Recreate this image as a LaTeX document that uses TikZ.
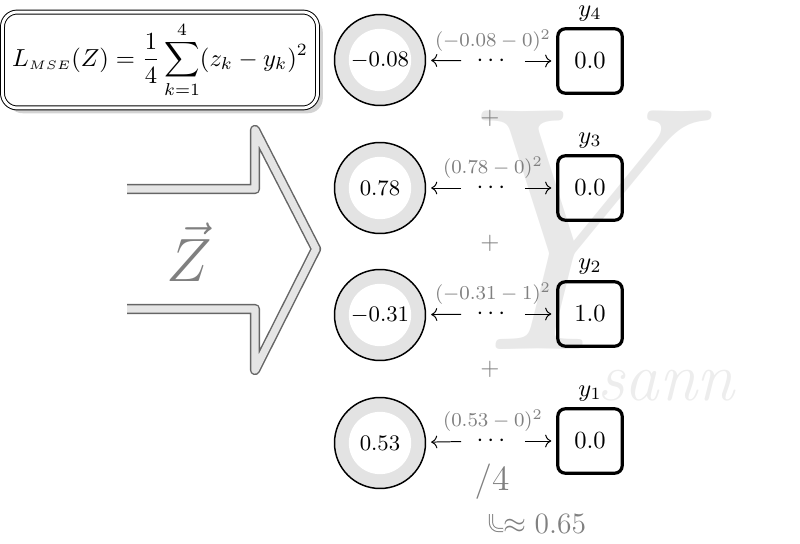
\documentclass[tikz,border=0pt]{standalone}
\usepackage{amssymb}
\usepackage{amsmath}
\usepackage{xcolor}
\usepackage{tikz}
\usetikzlibrary{positioning, shapes.geometric, arrows.meta, shadows}

\begin{document}
\begin{tikzpicture}[
        x=1cm/70, y=-1cm/70,
        neuron/.style={circle, draw, line width=0.6pt, fill=gray!22, minimum size=1.3cm, inner sep=0pt, font=\small,
            path picture={\fill[white] (path picture bounding box.center) circle (0.445cm);}},
        target/.style={rectangle, draw, rounded corners=3pt, line width=1.3pt, minimum size=0.92cm, inner sep=0pt},
        gap/.style={minimum width=0.9cm, inner sep=0pt},
        diff/.style={gray, font=\footnotesize},
        faint/.style={gray},
        err/.style={->, shorten >=2pt},
    ]
        \useasboundingbox (0,0) rectangle (800,544);

        % Watermark
        \node[text=black!9, font=\fontsize{142}{142}\selectfont\itshape] (mark) at (538,230) {Y};
        \node[text=black!7, font=\fontsize{28}{28}\selectfont\itshape] (brand) at (666,386) {sann};

        % Loss
        \node[draw, double, double distance=1.2pt, rounded corners=6pt, fill=white, drop shadow={opacity=0.35},
            minimum width=4.5cm, minimum height=1.37cm] (loss) at (160,60)
            {$\displaystyle L_{\scriptscriptstyle MSE}(Z)=\frac{1}{4}\sum_{k=1}^{4}(z_k-y_k)^2$};

        % Input arrow
        \draw[double=gray!20, double distance=3pt, line width=0.6pt, draw=gray!80!black, line join=round]
            (127,189) -- (255,189) -- (255,130) -- (316,249) -- (255,370) -- (255,309) -- (127,309);
        \node[faint, font=\Huge] (zvec) at (189,252) {$\vec{Z}$};

        % Outputs and targets
        \node[neuron] (z4) at (380,60) {$-0.08$};
        \node[neuron] (z3) at (380,188) {$0.78$};
        \node[neuron] (z2) at (380,315) {$-0.31$};
        \node[neuron] (z1) at (380,443) {$0.53$};

        \node[target, label={[yshift=-1pt]above:$y_4$}] (y4) at (590,61) {$0.0$};
        \node[target, label={[yshift=-1pt]above:$y_3$}] (y3) at (590,188) {$0.0$};
        \node[target, label={[yshift=-1pt]above:$y_2$}] (y2) at (590,314) {$1.0$};
        \node[target, label={[yshift=-1pt]above:$y_1$}] (y1) at (590,441) {$0.0$};

        \node[gap, label={[diff, yshift=-2pt]above:$(-0.08-0)^2$}] (d4) at (493,61) {$\cdots$};
        \node[gap, label={[diff, yshift=-2pt]above:$(0.78-0)^2$}] (d3) at (493,188) {$\cdots$};
        \node[gap, label={[diff, yshift=-2pt]above:$(-0.31-1)^2$}] (d2) at (493,314) {$\cdots$};
        \node[gap, label={[diff, yshift=-2pt]above:$(0.53-0)^2$}] (d1) at (493,441) {$\cdots$};

        % Errors
        \foreach \k in {1,...,4} {
            \draw[err] (d\k) -- (z\k);
            \draw[err] (d\k) -- (y\k);
        }

        % Sum
        \node[faint] (p3) at (490,118) {$+$};
        \node[faint] (p2) at (490,243) {$+$};
        \node[faint] (p1) at (490,369) {$+$};
        \node[faint, font=\Large] (avg) at (492,482) {$/4$};
        \node[faint, font=\large, inner sep=0pt, anchor=west] (res) at (503,524) {$\approx 0.65$};
        \draw[gray, double, double distance=0.9pt, line width=0.4pt, rounded corners=3pt]
            (res.west) ++(-12,-10) |- ++(12,16);

    \end{tikzpicture}
\end{document}
